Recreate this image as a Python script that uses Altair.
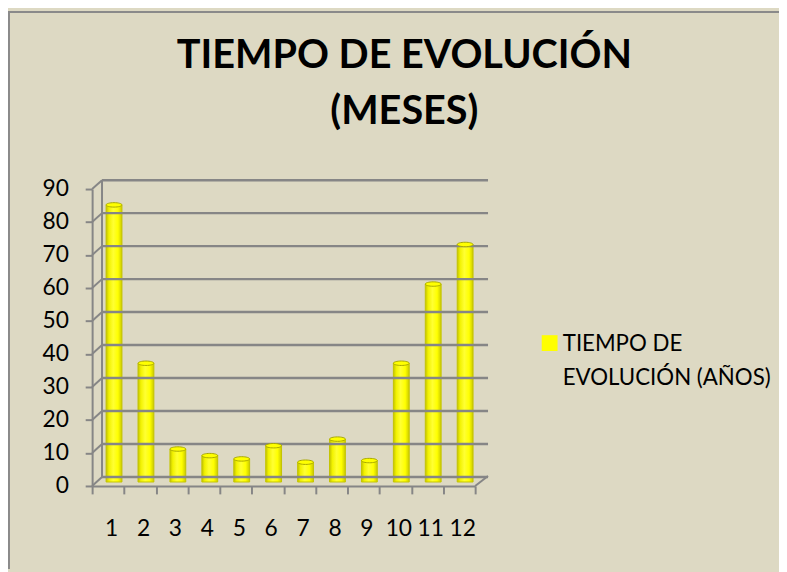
import altair as alt
import pandas as pd

# ---- data ----
categorias = [str(i) for i in range(1, 13)]
valores = [84, 36, 10, 8, 7, 11, 6, 13, 6.5, 36, 60, 72]
serie = "TIEMPO DE EVOLUCIÓN (AÑOS)"
titulo = ["TIEMPO DE EVOLUCIÓN", "(MESES)"]
ticks_y = [0, 10, 20, 30, 40, 50, 60, 70, 80, 90]

df = pd.DataFrame({"cat": categorias, "valor": valores, "serie": [serie] * len(categorias)})
grid_df = pd.DataFrame({"v": ticks_y})
one_df = pd.DataFrame({"a": [0]})

W, H = 387, 300
DX, DY = 10, -9          # depth offset of the back wall
BG = "#DDD9C3"
GRAY = "#868686"
FONT = "Lato"

xscale = alt.Scale(domain=categorias, paddingInner=0, paddingOuter=0)
yscale = alt.Scale(domain=[0, 90], nice=False)

x_axis = alt.Axis(title=None, labelAngle=0, tickBand="extent", labelFont=FONT,
                  labelFontSize=23, labelColor="black", tickColor=GRAY, tickSize=8,
                  tickWidth=2, domainColor=GRAY, domainWidth=2, labelPadding=24,
                  labelOffset=3, grid=False)
y_axis = alt.Axis(title=None, values=ticks_y, labelFont=FONT, labelFontSize=23,
                  labelColor="black", tickColor=GRAY, tickSize=7, tickWidth=2,
                  domainColor=GRAY, domainWidth=2, labelPadding=17, labelOverlap=False,
                  labelBound=False, labelFlush=False, grid=False)

grad = alt.Gradient(
    gradient="linear",
    stops=[
        alt.GradientStop(color="#C2C200", offset=0),
        alt.GradientStop(color="#F2F200", offset=0.18),
        alt.GradientStop(color="#FFFF33", offset=0.45),
        alt.GradientStop(color="#FFFF00", offset=0.75),
        alt.GradientStop(color="#CACA00", offset=1),
    ],
    x1=0, x2=1, y1=0, y2=0,
)

base = alt.Chart(df)

bars = base.mark_bar(width=16, xOffset=6, yOffset=-4, fill=grad, stroke="#C4C400",
                     strokeWidth=1).encode(
    x=alt.X("cat:N", sort=categorias, scale=xscale, axis=x_axis),
    y=alt.Y("valor:Q", scale=yscale, axis=y_axis),
)

# back gridlines
grid = alt.Chart(grid_df).mark_rule(color=GRAY, strokeWidth=2.5, yOffset=DY).encode(
    y=alt.Y("v:Q", scale=yscale, axis=y_axis),
    x=alt.value(DX), x2=alt.value(W + 13),
)
# diagonals from front axis to back wall
diag = alt.Chart(grid_df).mark_rule(color=GRAY, strokeWidth=2, y2Offset=DY).encode(
    y=alt.Y("v:Q", scale=yscale, axis=y_axis),
    y2=alt.Y2("v"),
    x=alt.value(0), x2=alt.value(DX),
)
wall = alt.Chart(one_df).mark_rule(color=GRAY, strokeWidth=2).encode(
    x=alt.value(DX), y=alt.value(DY), y2=alt.value(H + DY),
)
floor_edge = alt.Chart(one_df).mark_rule(color=GRAY, strokeWidth=2).encode(
    x=alt.value(W), x2=alt.value(W + 13), y=alt.value(H), y2=alt.value(H - 10),
)

# chart-area border (left and top edges)
border_left = alt.Chart(one_df).mark_rule(color="#8A8A8A", strokeWidth=2).encode(
    x=alt.value(-84), y=alt.value(-180), y2=alt.value(H + 84),
)
border_top = alt.Chart(one_df).mark_rule(color="#8A8A8A", strokeWidth=2).encode(
    x=alt.value(-85), x2=alt.value(W + 307), y=alt.value(-179),
)

ellipse = "M-1,0A1,0.28,0,1,1,1,0A1,0.28,0,1,1,-1,0Z"
caps = base.mark_point(shape=ellipse, size=256, filled=True, opacity=1, xOffset=6,
                       yOffset=-4, stroke="#A8A800", strokeWidth=1).encode(
    x=alt.X("cat:N", sort=categorias, scale=xscale, axis=x_axis),
    y=alt.Y("valor:Q", scale=yscale, axis=y_axis),
    fill=alt.Fill("serie:N", scale=alt.Scale(range=["#FFFF00"]),
                  legend=alt.Legend(title=None, orient="none", legendX=451, legendY=152,
                                    padding=0, symbolType="M-1,-1.95H1V0.05H-1Z",
                                    symbolSize=256, symbolStrokeWidth=0,
                                    symbolStrokeColor="transparent",
                                    labelFont=FONT, labelFontSize=22.5, labelColor="black",
                                    labelOffset=2, labelLimit=400, labelBaseline="alphabetic",
                                    labelExpr="['TIEMPO DE', 'EVOLUCIÓN (AÑOS)']")),
)

chart = alt.layer(bars, grid, diag, wall, floor_edge, border_left, border_top, caps).properties(
    width=W, height=H,
    autosize=alt.AutoSizeParams(type="none"),
    padding={"left": 85, "top": 180, "right": 307, "bottom": 84},
    background=BG,
    title=alt.Title(text=titulo, font=FONT, fontSize=40, fontWeight="bold", color="black",
                    anchor="middle", frame="group", dx=122, lineHeight=56, offset=-123),
).configure(
    view=alt.ViewConfig(stroke=None),
    style={"guide-label": {"lineHeight": 35}},
    axis=alt.AxisConfig(labelOverlap=False),
)

chart.save("out.html", embed_options={"renderer": "svg", "actions": False})
